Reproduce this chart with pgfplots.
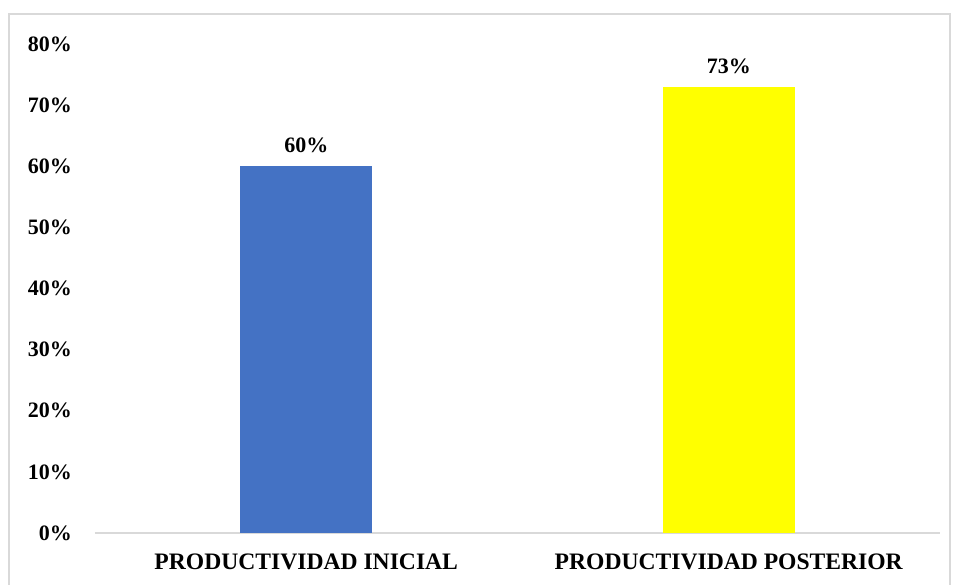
\documentclass[border=0pt]{standalone}
\usepackage{pgfplots}
\pgfplotsset{compat=1.18}
\usepackage{fontspec}
\setmainfont{Liberation Serif}
\definecolor{barblue}{HTML}{4472C4}
\definecolor{baryellow}{HTML}{FFFF00}
\definecolor{framegray}{HTML}{D9D9D9}
\begin{document}
\begin{tikzpicture}
% page area and outer chart frame
\useasboundingbox (0,0) rectangle (479pt,292pt);
\draw[framegray, line width=0.9pt] (4.5pt,-10pt) -- (4.5pt,285pt) -- (475pt,285pt) -- (475pt,-10pt);
\begin{axis}[
  at={(47.5pt,25.5pt)}, anchor=south west,
  scale only axis, width=422.5pt, height=244.5pt,
  ybar, bar width=66pt, bar shift=0pt,
  xmin=-0.5, xmax=1.5, ymin=0, ymax=80,
  axis lines=left,
  x axis line style={draw=framegray, line width=0.9pt, -},
  y axis line style={draw=none},
  major tick length=0pt,
  xtick={0,1},
  xticklabels={PRODUCTIVIDAD INICIAL, PRODUCTIVIDAD POSTERIOR},
  ytick={0,10,...,80},
  yticklabel={\pgfmathprintnumber{\tick}\%},
  /pgf/number format/assume math mode=true,
  yticklabel style={font=\bfseries\fontsize{11}{13}\selectfont, xshift=-8pt},
  xticklabel style={font=\bfseries\fontsize{11.8}{14}\selectfont, yshift=-7pt},
  nodes near coords={\pgfmathprintnumber{\pgfplotspointmeta}\%},
  every node near coord/.append style={font=\bfseries\fontsize{11}{13}\selectfont, black, yshift=3pt},
  clip=false,
]
\addplot[fill=barblue, draw=none] coordinates {(0,60)};
\addplot[fill=baryellow, draw=none] coordinates {(1,73)};
\end{axis}
\end{tikzpicture}
\end{document}
